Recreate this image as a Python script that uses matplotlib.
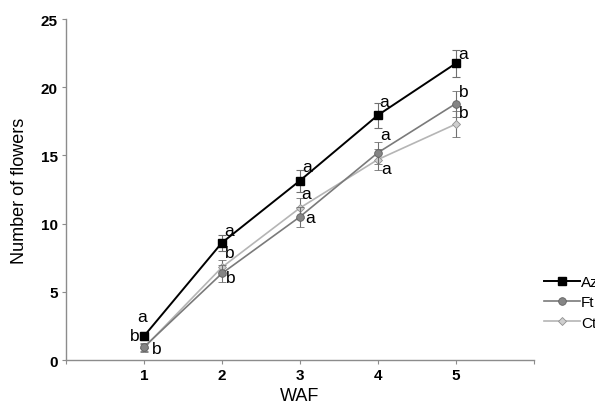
import numpy as np
import matplotlib.pyplot as plt
from matplotlib.lines import Line2D

plt.rcParams['font.family'] = ['Liberation Sans', 'DejaVu Sans']

# data
waf = [1, 2, 3, 4, 5]
az = [1.75, 8.6, 13.15, 17.95, 21.75]
az_err = [0.3, 0.6, 0.8, 0.9, 1.0]
ft = [0.95, 6.35, 10.5, 15.2, 18.8]
ft_err = [0.3, 0.65, 0.75, 0.8, 0.95]
ct = [0.9, 6.8, 11.15, 14.7, 17.3]
ct_err = [0.3, 0.55, 0.7, 0.8, 0.95]

az_letters = ['a', 'a', 'a', 'a', 'a']
ft_letters = ['b', 'b', 'a', 'a', 'b']
ct_letters = ['b', 'b', 'a', 'a', 'b']

fig = plt.figure(figsize=(5.95, 4.10), dpi=100)
ax = fig.add_axes([0.111, 0.1195, 0.786, 0.8315])

ct_style = dict(color='#b5b5b5', lw=1.2, marker='D', ms=4,
                mfc='#cfcfcf', mec='#909090', mew=0.6)
ft_style = dict(color='#7a7a7a', lw=1.2, marker='o', ms=5.5,
                mfc='#858585', mec='#606060', mew=0.6)
az_style = dict(color='black', lw=1.4, marker='s', ms=5.5,
                mfc='black', mec='black')
err_style = dict(ecolor='#707070', elinewidth=0.8, capsize=3, capthick=0.8)

ax.errorbar(waf, ct, yerr=ct_err, zorder=2, **ct_style, **err_style)
ax.errorbar(waf, ft, yerr=ft_err, zorder=3, **ft_style, **err_style)
ax.errorbar(waf, az, yerr=az_err, zorder=4, **az_style, **err_style)

# significance letters (offsets in points)
az_off = [(-1, 14), (5, 9), (5.3, 10.4), (4.8, 9.6), (5.3, 7.4)]
ft_off = [(-7, 8.6), (6.3, -2.9), (7.2, -0.4), (5.5, 13.2), (6, 8.4)]
ct_off = [(9, -0.5), (5.5, 10.3), (4.8, 10.4), (6, -6.7), (6, 8.4)]
for vals, lets, offs in [(az, az_letters, az_off), (ft, ft_letters, ft_off),
                         (ct, ct_letters, ct_off)]:
    for x, y, t, o in zip(waf, vals, lets, offs):
        ax.annotate(t, (x, y), textcoords='offset points', xytext=o,
                    ha='center', va='center', fontsize=12.5)

ax.set_xlim(0, 6)
ax.set_ylim(0, 25)
ax.set_xticks([0, 1, 2, 3, 4, 5, 6])
ax.set_xticklabels(['', '1', '2', '3', '4', '5', ''], fontweight='bold', fontsize=11)
ax.set_yticks([0, 5, 10, 15, 20, 25])
ax.set_yticklabels(['0', '5', '10', '15', '20', '25'], fontweight='bold', fontsize=11)
for s in ['top', 'right']:
    ax.spines[s].set_visible(False)
for s in ['left', 'bottom']:
    ax.spines[s].set_color('#8c8c8c')
    ax.spines[s].set_linewidth(1.0)
ax.tick_params(colors='#8c8c8c', length=3, width=0.8, labelcolor='black', pad=3)

ax.set_xlabel('WAF', fontsize=13, labelpad=3)
ax.set_ylabel('Number of flowers', fontsize=13, labelpad=9)

handles = [Line2D([], [], **az_style), Line2D([], [], **ft_style),
           Line2D([], [], **ct_style)]
fig.legend(handles, ['Az', 'Ft', 'Ct'], loc='upper left',
           bbox_to_anchor=(0.915, 0.327), frameon=False, fontsize=11,
           handlelength=2.3, handletextpad=0.1, labelspacing=0.42,
           borderaxespad=0, borderpad=0)

fig.savefig('out.png', dpi=100)
